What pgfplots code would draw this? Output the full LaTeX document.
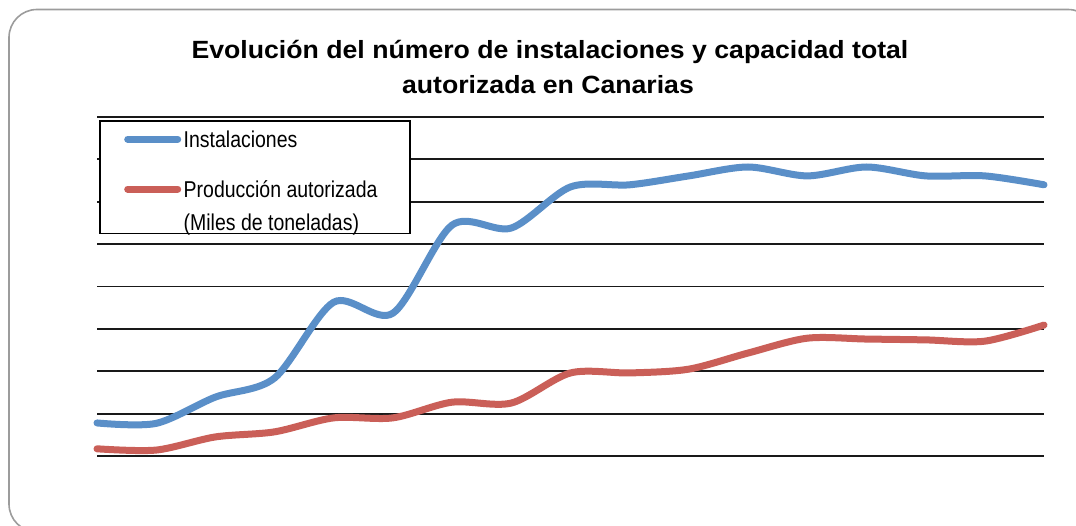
\documentclass[border=0pt]{standalone}
\usepackage{fontspec}
\setmainfont{Liberation Sans}[FakeStretch=0.85]
\newfontfamily\titulofont{Liberation Sans}[FakeStretch=1.07]
\usepackage{pgfplots}
\usepackage{pgfplotstable}
\pgfplotsset{compat=1.18}

\definecolor{serieInst}{HTML}{5A8FC8}
\definecolor{serieProd}{HTML}{CA5F58}
\definecolor{marco}{HTML}{9C9C9C}

% Serie anual: número de instalaciones y producción autorizada
\pgfplotstableread{
x  inst  prod
0  0.78  0.17
1  0.77  0.14
2  1.39  0.45
3  1.84  0.57
4  3.63  0.90
5  3.37  0.90
6  5.45  1.27
7  5.38  1.25
8  6.35  1.96
9  6.40  1.96
10 6.61  2.05
11 6.82  2.43
12 6.61  2.78
13 6.82  2.76
14 6.61  2.74
15 6.61  2.71
16 6.40  3.09
}\datos

\begin{document}
\begin{tikzpicture}
\path[use as bounding box] (0bp,0bp) rectangle (1076bp,526bp);
\begin{scope}
  \clip (0bp,0bp) rectangle (1076bp,526bp);
  \draw[marco, line width=1.6bp, rounded corners=28bp] (9bp,516.5bp) rectangle (1096bp,-6bp);
\end{scope}

\node[font=\titulofont\fontsize{25}{35}\selectfont\bfseries, anchor=base, inner sep=0pt] at (550bp,467bp)
  {Evolución del número de instalaciones y capacidad total};
\node[font=\titulofont\fontsize{25}{35}\selectfont\bfseries, anchor=base, inner sep=0pt] at (548bp,432bp)
  {autorizada en Canarias};

\begin{axis}[
  at={(97bp,70bp)}, anchor=south west,
  scale only axis, width=947bp, height=339bp,
  xmin=0, xmax=16, ymin=0, ymax=8,
  xtick=\empty, ytick={0,1,...,8}, yticklabels={},
  major tick length=0pt,
  ymajorgrids,
  major grid style={black!90, line width=1.8bp},
  axis line style={draw=none},
  clip=false,
  legend image code/.code={
    \draw[#1, line width=7bp, line cap=round] (0bp,8.5bp) -- (50bp,8.5bp);
  },
  legend style={
    at={(axis description cs:0.0026,0.9897)}, anchor=north west,
    draw=black, line width=1.5bp, fill=white,
    inner xsep=24bp, inner ysep=3bp,
    row sep=32.7bp, column sep=2.5bp,
    font=\fontsize{23}{33}\selectfont,
    cells={anchor=base west},
    nodes={inner sep=0pt, text depth=, text height=},
  },
]
\addplot[serieInst, line width=7bp, smooth, line cap=round] table[x=x, y=inst] {\datos};
\addlegendentry{\rule{0pt}{23.5bp}Instalaciones}
\addplot[serieProd, line width=7bp, smooth, line cap=round] table[x=x, y=prod] {\datos};
\addlegendentry{\parbox[t]{202.5bp}{Producción autorizada\\
  \raisebox{0pt}[\height][0pt]{(Miles de toneladas)}}}
\end{axis}
\end{tikzpicture}
\end{document}
